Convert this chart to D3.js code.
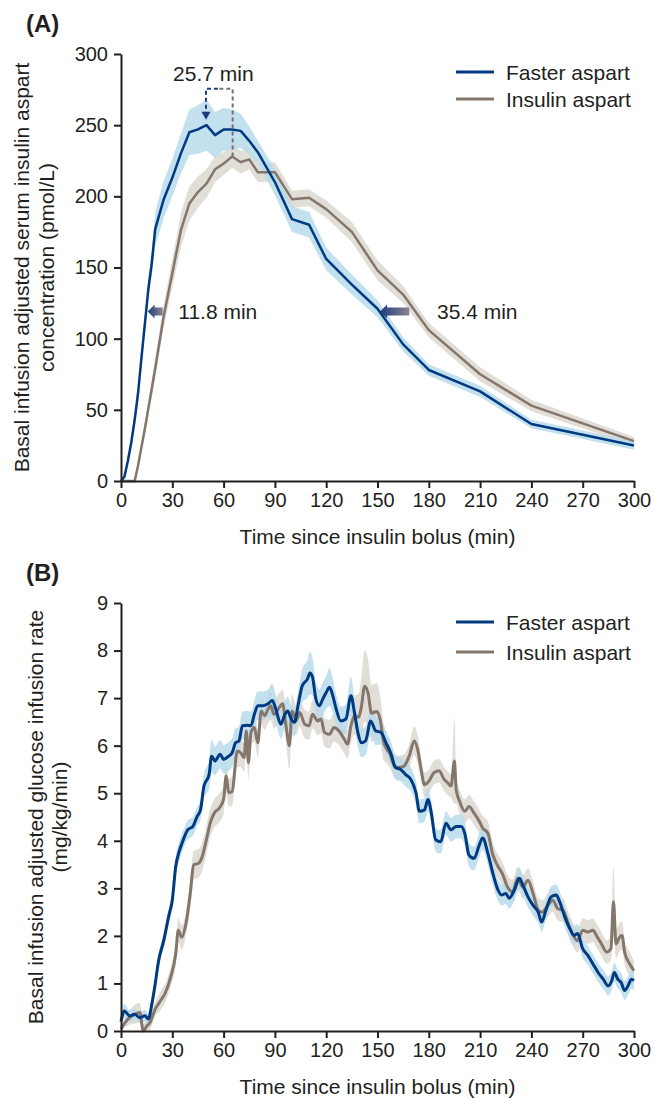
<!DOCTYPE html>
<html>
<head>
<meta charset="utf-8">
<script src="https://cdn.jsdelivr.net/npm/d3@7"></script>
<style>
  body { margin: 0; background: #fff; }
  svg text { font-family: "Liberation Sans", Arial, Helvetica, sans-serif; fill: #231f20; }
  .axis path, .axis line { stroke: #231f20; stroke-width: 2; }
  .axis text { font-size: 20px; }
</style>
</head>
<body>
<svg id="chart" width="655" height="1100"></svg>
<script>
// ---- Panel A: serum insulin aspart (pmol/L) ----
const pkTime = [0,2,4,6,8,10,12,14,16,18,20,25,30,35,40,45,50,55,60,65,70,75,80,90,100,110,120,135,150,165,180,210,240,300];
const pkFaster = [0,3,14,27,43,62,87,111,135,153,177,198,213,230,245,247,250,243,247,247,246,239,231,210,184,180,156,138,121,96,78,63,40,25];
const pkFasterSE = [0,1,2,3,4,5,5,6,7,9,12,13,13,14,16,17,18,16,15,14,12,10,8,9,9,9,8,7,6,5,4,4,3,3];
const pkAspart = [0,0,0,0,0,11,24,37,51,65,79,116,146,176,195,203,209,219,223,228,224,226,217,217,198,199,191,175,148,131,106,75,53,28];
const pkAspartSE = [0,0,0,0,0,1,3,4,5,6,7,8,10,12,12,11,10,9,8,8,8,7,7,7,6,6,6,7,7,6,5,5,4,3];

// ---- Panel B: glucose infusion rate (mg/kg/min) ----
const girFasterTime = [0,2,5,8,11,14,16,18,20,22,25,28,30,32,34,36,39,42,44.5,46.5,48.5,51.5,53,55,58,60,63,65,67,69,71,74,76,78,80,83,86,88.5,90.5,93.5,95.5,97.5,99.5,101.5,103.5,106,109,110.5,112,114,116,118,120,122,124,126,128.5,131.5,134.5,136.5,138.5,140.5,143,146,149,152,155,158,160.5,163.5,166.5,169.5,172.5,174.5,177.5,179.5,181.5,184,187,190,193,196,199,201,203.5,206.5,209.5,211.5,214.5,217.5,220.5,222.5,225,227,230,233,235,238,241,244,246,248.5,251.5,254.5,256.5,259.5,262.5,265,267,270,273,276,279,282,285,287,288.5,290.5,292.5,294.5,296.5,298.5,300];
const girFaster = [0.2,0.42,0.32,0.35,0.28,0.32,0.25,0.56,0.99,1.48,1.9,2.43,2.75,3.46,3.77,3.98,4.23,4.3,4.51,4.65,5.15,5.39,5.78,5.68,5.82,5.71,5.78,5.85,6.06,6.1,6.42,6.43,6.42,6.66,6.84,6.84,6.88,6.95,6.77,6.45,6.63,6.73,6.56,6.49,6.84,7.26,7.4,7.53,7.44,6.98,6.84,6.98,7.12,7.23,7.03,6.75,6.52,6.56,7.05,6.7,6.28,6.06,6.1,6.52,6.31,6.28,6.06,5.82,5.54,5.5,5.39,5.29,5.01,4.62,4.65,4.87,4.58,4.02,3.98,4.37,4.23,4.3,4.3,4.16,3.7,3.63,3.91,4.06,3.74,3.31,2.96,2.86,2.89,2.79,2.96,3.21,3.07,2.82,2.64,2.5,2.29,2.54,2.82,2.86,2.72,2.4,2.15,2.01,2.05,1.73,1.59,1.41,1.23,1.09,0.95,1.06,1.23,1.09,1.02,0.85,0.95,1.09,1.06];
const girFasterSE = [0.12,0.15,0.12,0.12,0.12,0.12,0.12,0.12,0.15,0.15,
  0.15,0.15,0.2,0.2,0.2,0.2,0.2,0.2,0.2,0.2,
  0.25,0.3,0.35,0.3,0.3,0.3,0.3,0.3,0.3,0.3,
  0.3,0.3,0.3,0.3,0.3,0.3,0.3,0.35,0.3,0.3,
  0.3,0.3,0.3,0.3,0.3,0.35,0.4,0.45,0.4,0.35,
  0.35,0.35,0.35,0.4,0.35,0.3,0.3,0.3,0.4,0.3,
  0.3,0.3,0.3,0.3,0.3,0.25,0.25,0.25,0.25,0.25,
  0.25,0.25,0.25,0.25,0.25,0.25,0.25,0.25,0.25,0.25,
  0.25,0.25,0.25,0.25,0.25,0.25,0.25,0.25,0.25,0.25,
  0.22,0.22,0.22,0.22,0.22,0.22,0.22,0.22,0.22,0.22,
  0.2,0.2,0.22,0.22,0.22,0.2,0.2,0.2,0.2,0.2,
  0.2,0.2,0.2,0.2,0.2,0.2,0.2,0.2,0.2,0.2,
  0.2,0.2,0.2];

const girAspartTime = [0,2.5,5,8,11,13,15,17,20,23,26,29,32,33.5,35.5,38,40.5,42.5,45.5,47.5,49.5,52.5,54.5,57.5,60,61.5,63,65,68,70,72,73.3,74.5,76,78,80,82,84,86,87.5,89.5,92.5,94.5,96.5,98.5,100,102.5,104.5,107.5,110,112,115,117,119,122,124.5,127.5,130.5,132.5,134.5,136.5,139,140.5,142.5,144.5,146.5,149.5,151.5,153.5,155.5,157,160,162.5,165.5,168.5,171.5,173.5,175.5,177.5,180,183,186,189,191,193,195,196,198,201,203.5,206.5,209.5,211.5,214.5,217.5,220.5,223,226,229,232,235,238,241,244,246.5,249.5,252.5,255.5,258.5,261.5,264.5,267,270,273,276,278,281,284,286.5,288,289.5,291.5,293,294.5,297.5,300];
const girAspart = [0.04,0.18,0.28,0.35,0.39,0.0,0.1,0.18,0.46,0.63,0.81,1.13,1.62,2.12,1.97,2.26,2.89,3.49,3.53,3.67,3.95,4.41,4.58,4.69,4.87,5.36,5.01,5.04,5.89,5.85,5.75,6.31,5.64,6.28,6.38,6.06,6.73,6.63,6.77,6.84,6.66,6.8,6.88,6.42,6.0,6.73,6.52,6.7,6.45,6.42,6.66,6.52,6.56,6.28,6.24,6.38,6.31,6.14,6.03,6.42,6.63,6.6,6.8,7.25,7.1,6.68,6.72,6.56,6.1,5.92,5.85,5.57,5.54,5.57,5.78,6.1,5.92,5.5,5.18,5.25,5.43,5.47,5.29,5.22,5.15,5.68,5.08,4.83,4.62,4.72,4.58,4.41,4.27,4.16,3.7,3.46,3.31,3.03,2.93,3.21,3.03,3.17,2.89,2.54,2.5,2.64,2.75,2.57,2.54,2.26,2.01,1.9,2.12,2.08,2.12,2.01,1.83,1.66,1.73,2.72,1.83,1.97,2.01,1.66,1.41,1.27];
const girAspartSE = [0.05,0.1,0.15,0.2,0.2,0.15,0.15,0.15,0.15,0.2,
  0.2,0.2,0.25,0.25,0.25,0.25,0.3,0.3,0.3,0.3,
  0.3,0.3,0.3,0.3,0.3,0.35,0.3,0.3,0.35,0.3,
  0.3,0.35,0.35,0.3,0.3,0.3,0.3,0.3,0.3,0.3,
  0.3,0.3,0.3,0.35,0.5,0.35,0.3,0.3,0.3,0.3,
  0.3,0.3,0.3,0.3,0.3,0.3,0.3,0.3,0.3,0.35,
  0.4,0.5,0.6,0.75,0.7,0.6,0.6,0.5,0.4,0.3,
  0.3,0.25,0.25,0.25,0.25,0.3,0.3,0.25,0.25,0.25,
  0.25,0.25,0.25,0.25,0.25,0.9,0.3,0.25,0.25,0.25,
  0.25,0.25,0.25,0.25,0.25,0.25,0.25,0.25,0.25,0.25,
  0.25,0.25,0.25,0.25,0.25,0.25,0.25,0.25,0.25,0.25,
  0.25,0.25,0.25,0.25,0.25,0.25,0.25,0.25,0.25,0.75,
  0.3,0.3,0.3,0.25,0.25,0.2];

const timeTicks = [0,30,60,90,120,150,180,210,240,270,300];
const pkTicks = [0,50,100,150,200,250,300];
const girTicks = [0,1,2,3,4,5,6,7,8,9];
const seriesNames = ["Faster aspart", "Insulin aspart"];

// annotations of panel A (data units)
const halfLevel = 119;             // level of the two horizontal arrows
const onsetArrow = [24.4, 15.6];   // tail, tip (min)
const offsetArrow = [168.6, 151.5];
const arrowLabels = ["11.8 min", "35.4 min"];
const arrowLabelT = [33.5, 184.8];
const tmaxT = [49.7, 65.3];        // faster, aspart
const tmaxLevels = [275.6, 252.4, 227]; // bracket top, faster peak, aspart peak
const tmaxLabel = "25.7 min";

const NAVY = "#003a80", NAVY_BAND = "#b9dbeb";
const BROWN = "#85766b", BROWN_BAND = "#dedad4";

const svg = d3.select("#chart");

const defs = svg.append("defs");
const grad = defs.append("linearGradient").attr("id", "arrowGrad")
  .attr("x1", "0%").attr("x2", "100%").attr("y1", "0%").attr("y2", "0%");
grad.append("stop").attr("offset", "0%").attr("stop-color", "#1d3c7c");
grad.append("stop").attr("offset", "100%").attr("stop-color", "#8a8592");

function panel(opts) {
  const x = d3.scaleLinear().domain([0, 300]).range([121, 634]);
  const y = d3.scaleLinear().domain([0, opts.yMax]).range(opts.yRange);
  const g = svg.append("g");

  const rows = (t, v, se) => t.map((d, i) => ({ t: d, v: v[i], se: se[i] }));
  const a = rows(opts.aspartT, opts.aspart, opts.aspartSE);
  const f = rows(opts.fasterT, opts.faster, opts.fasterSE);

  const band = d3.area()
    .x(d => x(d.t))
    .y0(d => y(Math.max(0, d.v - d.se)))
    .y1(d => y(d.v + d.se))
    .curve(opts.curve);
  const line = d3.line().x(d => x(d.t)).y(d => y(d.v)).curve(opts.curve);

  g.append("path").datum(a).attr("d", band).attr("fill", BROWN_BAND).attr("fill-opacity", 0.9);
  g.append("path").datum(f).attr("d", band).attr("fill", NAVY_BAND).attr("fill-opacity", 0.85);
  g.append("path").datum(a).attr("d", line).attr("fill", "none")
    .attr("stroke", BROWN).attr("stroke-width", opts.lw).attr("stroke-linejoin", "round");
  g.append("path").datum(f).attr("d", line).attr("fill", "none")
    .attr("stroke", NAVY).attr("stroke-width", opts.lw).attr("stroke-linejoin", "round");

  // Ejes
  g.append("g").attr("class", "axis")
    .attr("transform", `translate(0,${y(0)})`)
    .call(d3.axisBottom(x).tickValues(timeTicks).tickSize(7).tickPadding(5).tickSizeOuter(0));
  g.append("g").attr("class", "axis")
    .attr("transform", `translate(${x(0)},0)`)
    .call(d3.axisLeft(y).tickValues(opts.yTicks).tickSize(7).tickPadding(6).tickSizeOuter(0));

  g.append("text").attr("x", (x(0) + x(300)) / 2).attr("y", y(0) + 63)
    .attr("text-anchor", "middle").style("font-size", "21px")
    .text("Time since insulin bolus (min)");

  const yc = (y(0) + y(opts.yMax)) / 2;
  opts.yLabel.forEach((s, i) => {
    g.append("text")
      .attr("transform", `translate(${opts.yLabelX[i]},${yc}) rotate(-90)`)
      .attr("text-anchor", "middle").attr("dominant-baseline", "central")
      .style("font-size", "21px").text(s);
  });

  g.append("text").attr("x", 26).attr("y", opts.tagY)
    .style("font-size", "24px").style("font-weight", "bold").text(opts.tag);

  // Leyenda
  [NAVY, BROWN].forEach((c, i) => {
    const ly = opts.legendY[i];
    g.append("line").attr("x1", 456).attr("x2", 494).attr("y1", ly).attr("y2", ly)
      .attr("stroke", c).attr("stroke-width", 3);
    g.append("text").attr("x", 506).attr("y", ly).attr("dominant-baseline", "central")
      .style("font-size", "21px").text(seriesNames[i]);
  });

  return { g, x, y };
}

// Panel A
const A = panel({
  yMax: 300, yRange: [481, 54], yTicks: pkTicks, lw: 2.5, curve: d3.curveLinear,
  fasterT: pkTime, faster: pkFaster, fasterSE: pkFasterSE,
  aspartT: pkTime, aspart: pkAspart, aspartSE: pkAspartSE,
  yLabel: ["Basal infusion adjusted serum insulin aspart", "concentration (pmol/L)"],
  yLabelX: [21, 46], tag: "(A)", tagY: 32, legendY: [72, 99]
});

// flechas horizontales (inicio / fin de la exposicion)
function hArrow(g, x0, x1, yy) {
  // x0 = tail, x1 = tip (tip to the left)
  const head = 7, hh = 7, sh = 4;
  const pts = [[x1, yy], [x1 + head, yy - hh], [x1 + head, yy - sh], [x0, yy - sh],
               [x0, yy + sh], [x1 + head, yy + sh], [x1 + head, yy + hh]];
  g.append("path").attr("d", d3.line()(pts) + "Z").attr("fill", "url(#arrowGrad)");
}
hArrow(A.g, A.x(onsetArrow[0]), A.x(onsetArrow[1]), A.y(halfLevel));
hArrow(A.g, A.x(offsetArrow[0]), A.x(offsetArrow[1]), A.y(halfLevel));
arrowLabels.forEach((s, i) => {
  A.g.append("text").attr("x", A.x(arrowLabelT[i])).attr("y", A.y(halfLevel))
    .attr("dominant-baseline", "central").style("font-size", "21px").text(s);
});

// tmax bracket
const xf = A.x(tmaxT[0]), xa = A.x(tmaxT[1]), xm = (xf + xa) / 2;
const yTop = A.y(tmaxLevels[0]);
A.g.append("path").attr("d", d3.line()([[xf, A.y(tmaxLevels[1]) - 6], [xf, yTop], [xm, yTop]]))
  .attr("fill", "none").attr("stroke", "#1d3c7c").attr("stroke-width", 2).attr("stroke-dasharray", "4,3");
A.g.append("path").attr("d", d3.line()([[xm, yTop], [xa, yTop], [xa, A.y(tmaxLevels[2])]]))
  .attr("fill", "none").attr("stroke", "#77726f").attr("stroke-width", 2).attr("stroke-dasharray", "4,3");
const tipY = A.y(tmaxLevels[1]) - 2;
A.g.append("path").attr("d", d3.line()([[xf - 4.5, tipY - 8], [xf + 4.5, tipY - 8], [xf, tipY]]) + "Z")
  .attr("fill", "#1d3c7c");
A.g.append("text").attr("x", (xf + xa) / 2 - 6).attr("y", yTop - 8)
  .attr("text-anchor", "middle").style("font-size", "21px").text(tmaxLabel);

// Panel B
panel({
  yMax: 9, yRange: [1031, 603], yTicks: girTicks, lw: 3, curve: d3.curveMonotoneX,
  fasterT: girFasterTime, faster: girFaster, fasterSE: girFasterSE,
  aspartT: girAspartTime, aspart: girAspart, aspartSE: girAspartSE,
  yLabel: ["Basal infusion adjusted glucose infusion rate", "(mg/kg/min)"],
  yLabelX: [35, 59], tag: "(B)", tagY: 581, legendY: [622, 652]
});
</script>
</body>
</html>
